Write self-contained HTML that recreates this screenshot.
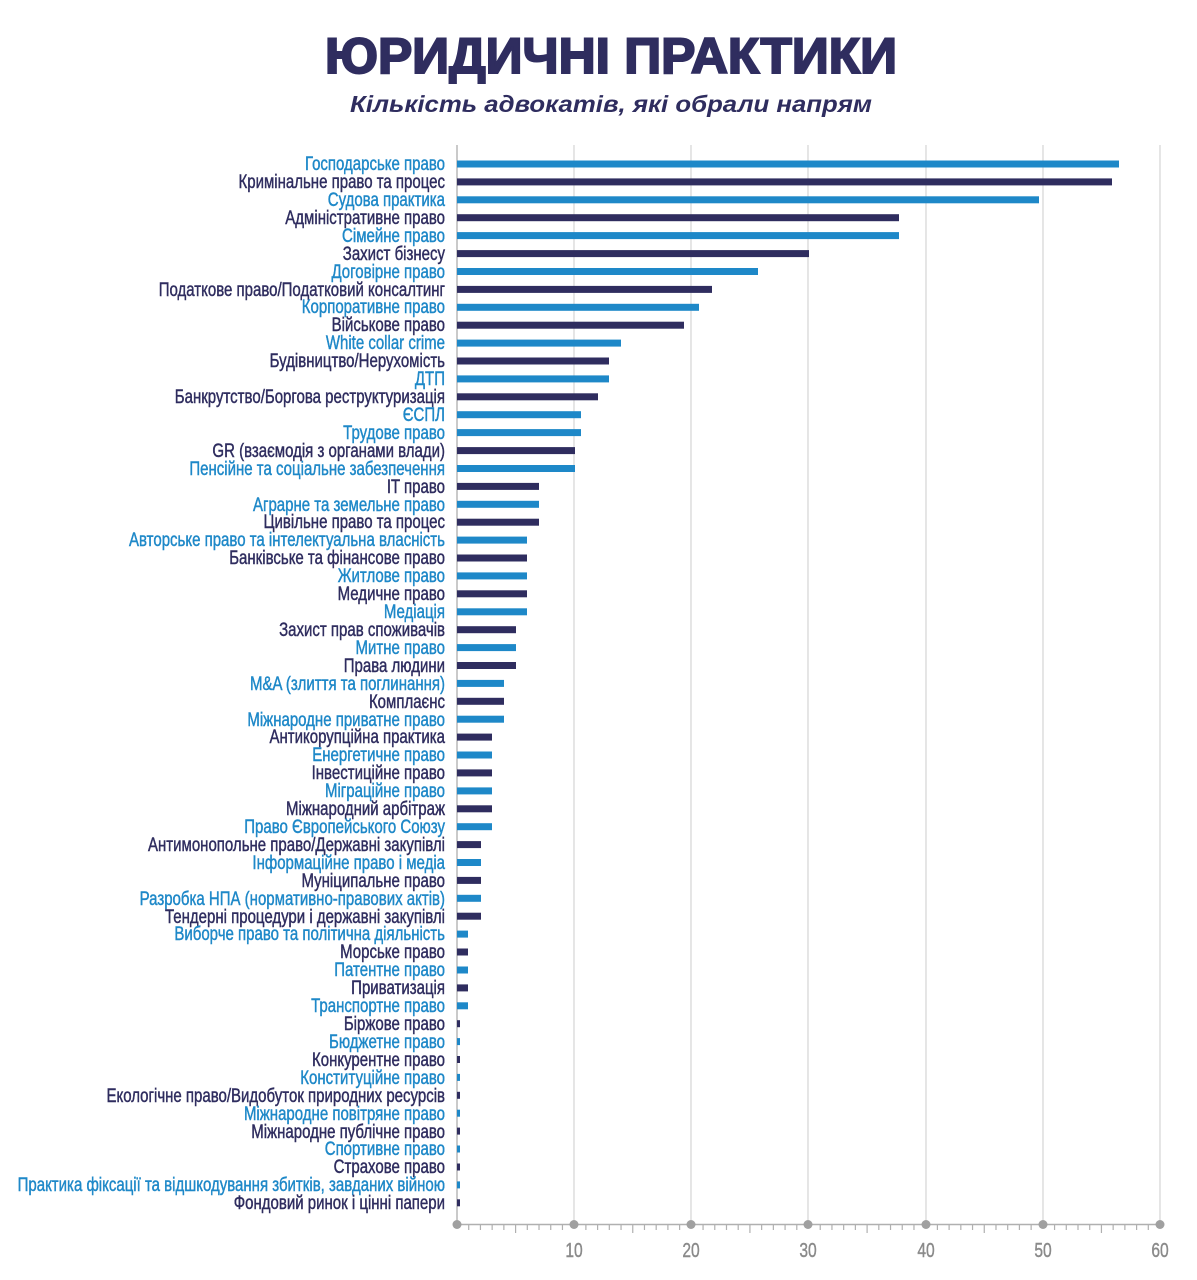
<!DOCTYPE html>
<html><head><meta charset="utf-8"><style>
html,body{margin:0;padding:0;background:#fff;}
svg{display:block}
</style></head><body>
<svg width="1197" height="1280" viewBox="0 0 1197 1280" xmlns="http://www.w3.org/2000/svg">
<rect width="1197" height="1280" fill="#fff"/>
<text x="611" y="73" text-anchor="middle" font-family="Liberation Sans, sans-serif" font-weight="900" font-size="50" fill="#2f2d5f" stroke="#2f2d5f" stroke-width="2" textLength="572" lengthAdjust="spacingAndGlyphs">ЮРИДИЧНІ ПРАКТИКИ</text>
<text x="611" y="112" text-anchor="middle" font-family="Liberation Sans, sans-serif" font-weight="bold" font-style="italic" font-size="23" fill="#2f2d5f" textLength="522" lengthAdjust="spacingAndGlyphs">Кількість адвокатів, які обрали напрям</text>
<g stroke="#d4d4d4" stroke-width="1.2">
<line x1="574" y1="145" x2="574" y2="1224"/><line x1="691" y1="145" x2="691" y2="1224"/><line x1="808" y1="145" x2="808" y2="1224"/><line x1="926" y1="145" x2="926" y2="1224"/><line x1="1043" y1="145" x2="1043" y2="1224"/><line x1="1160" y1="145" x2="1160" y2="1224"/>
</g>
<line x1="457" y1="145" x2="457" y2="1224" stroke="#b8b8b8" stroke-width="1.5"/>
<line x1="457" y1="1224.5" x2="1160" y2="1224.5" stroke="#b0b0b0" stroke-width="1.5"/>
<g id="ticks" stroke="#b0b0b0" stroke-width="1.2"></g>
<g id="bars"></g>
<g fill="#a0a0a0">
<circle cx="457" cy="1224.5" r="4.5"/><circle cx="574" cy="1224.5" r="4.5"/><circle cx="691" cy="1224.5" r="4.5"/><circle cx="808" cy="1224.5" r="4.5"/><circle cx="926" cy="1224.5" r="4.5"/><circle cx="1043" cy="1224.5" r="4.5"/><circle cx="1160" cy="1224.5" r="4.5"/>
</g>
<g font-family="Liberation Sans, sans-serif" font-size="20" fill="#8a8a8a" stroke="#8a8a8a" stroke-width="0.4" text-anchor="middle">
<text x="574" y="1257" transform="translate(574 0) scale(0.78 1) translate(-574 0)">10</text>
<text x="691" y="1257" transform="translate(691 0) scale(0.78 1) translate(-691 0)">20</text>
<text x="808" y="1257" transform="translate(808 0) scale(0.78 1) translate(-808 0)">30</text>
<text x="926" y="1257" transform="translate(926 0) scale(0.78 1) translate(-926 0)">40</text>
<text x="1043" y="1257" transform="translate(1043 0) scale(0.78 1) translate(-1043 0)">50</text>
<text x="1160" y="1257" transform="translate(1160 0) scale(0.78 1) translate(-1160 0)">60</text>
</g>
<g font-family="Liberation Sans, sans-serif" font-size="19" stroke-width="0.45" text-anchor="end" transform="translate(445 0) scale(0.79 1)">
<text x="0" y="170" fill="#1e88c8" stroke="#1e88c8">Господарське право</text>
<text x="0" y="188" fill="#2f2d5f" stroke="#2f2d5f">Кримінальне право та процес</text>
<text x="0" y="206" fill="#1e88c8" stroke="#1e88c8">Судова практика</text>
<text x="0" y="224" fill="#2f2d5f" stroke="#2f2d5f">Адміністративне право</text>
<text x="0" y="242" fill="#1e88c8" stroke="#1e88c8">Сімейне право</text>
<text x="0" y="260" fill="#2f2d5f" stroke="#2f2d5f">Захист бізнесу</text>
<text x="0" y="278" fill="#1e88c8" stroke="#1e88c8">Договірне право</text>
<text x="0" y="296" fill="#2f2d5f" stroke="#2f2d5f">Податкове право/Податковий консалтинг</text>
<text x="0" y="313" fill="#1e88c8" stroke="#1e88c8">Корпоративне право</text>
<text x="0" y="331" fill="#2f2d5f" stroke="#2f2d5f">Військове право</text>
<text x="0" y="349" fill="#1e88c8" stroke="#1e88c8">White collar crime</text>
<text x="0" y="367" fill="#2f2d5f" stroke="#2f2d5f">Будівництво/Нерухомість</text>
<text x="0" y="385" fill="#1e88c8" stroke="#1e88c8">ДТП</text>
<text x="0" y="403" fill="#2f2d5f" stroke="#2f2d5f">Банкрутство/Боргова реструктуризація</text>
<text x="0" y="421" fill="#1e88c8" stroke="#1e88c8">ЄСПЛ</text>
<text x="0" y="439" fill="#1e88c8" stroke="#1e88c8">Трудове право</text>
<text x="0" y="457" fill="#2f2d5f" stroke="#2f2d5f">GR (взаємодія з органами влади)</text>
<text x="0" y="475" fill="#1e88c8" stroke="#1e88c8">Пенсійне та соціальне забезпечення</text>
<text x="0" y="493" fill="#2f2d5f" stroke="#2f2d5f">IT право</text>
<text x="0" y="511" fill="#1e88c8" stroke="#1e88c8">Аграрне та земельне право</text>
<text x="0" y="528" fill="#2f2d5f" stroke="#2f2d5f">Цивільне право та процес</text>
<text x="0" y="546" fill="#1e88c8" stroke="#1e88c8">Авторське право та інтелектуальна власність</text>
<text x="0" y="564" fill="#2f2d5f" stroke="#2f2d5f">Банківське та фінансове право</text>
<text x="0" y="582" fill="#1e88c8" stroke="#1e88c8">Житлове право</text>
<text x="0" y="600" fill="#2f2d5f" stroke="#2f2d5f">Медичне право</text>
<text x="0" y="618" fill="#1e88c8" stroke="#1e88c8">Медіація</text>
<text x="0" y="636" fill="#2f2d5f" stroke="#2f2d5f">Захист прав споживачів</text>
<text x="0" y="654" fill="#1e88c8" stroke="#1e88c8">Митне право</text>
<text x="0" y="672" fill="#2f2d5f" stroke="#2f2d5f">Права людини</text>
<text x="0" y="690" fill="#1e88c8" stroke="#1e88c8">M&amp;A (злиття та поглинання)</text>
<text x="0" y="708" fill="#2f2d5f" stroke="#2f2d5f">Комплаєнс</text>
<text x="0" y="726" fill="#1e88c8" stroke="#1e88c8">Міжнародне приватне право</text>
<text x="0" y="743" fill="#2f2d5f" stroke="#2f2d5f">Антикорупційна практика</text>
<text x="0" y="761" fill="#1e88c8" stroke="#1e88c8">Енергетичне право</text>
<text x="0" y="779" fill="#2f2d5f" stroke="#2f2d5f">Інвестиційне право</text>
<text x="0" y="797" fill="#1e88c8" stroke="#1e88c8">Міграційне право</text>
<text x="0" y="815" fill="#2f2d5f" stroke="#2f2d5f">Міжнародний арбітраж</text>
<text x="0" y="833" fill="#1e88c8" stroke="#1e88c8">Право Європейського Союзу</text>
<text x="0" y="851" fill="#2f2d5f" stroke="#2f2d5f">Антимонопольне право/Державні закупівлі</text>
<text x="0" y="869" fill="#1e88c8" stroke="#1e88c8">Інформаційне право і медіа</text>
<text x="0" y="887" fill="#2f2d5f" stroke="#2f2d5f">Муніципальне право</text>
<text x="0" y="905" fill="#1e88c8" stroke="#1e88c8">Разробка НПА (нормативно-правових актів)</text>
<text x="0" y="923" fill="#2f2d5f" stroke="#2f2d5f">Тендерні процедури і державні закупівлі</text>
<text x="0" y="940" fill="#1e88c8" stroke="#1e88c8">Виборче право та політична діяльність</text>
<text x="0" y="958" fill="#2f2d5f" stroke="#2f2d5f">Морське право</text>
<text x="0" y="976" fill="#1e88c8" stroke="#1e88c8">Патентне право</text>
<text x="0" y="994" fill="#2f2d5f" stroke="#2f2d5f">Приватизація</text>
<text x="0" y="1012" fill="#1e88c8" stroke="#1e88c8">Транспортне право</text>
<text x="0" y="1030" fill="#2f2d5f" stroke="#2f2d5f">Біржове право</text>
<text x="0" y="1048" fill="#1e88c8" stroke="#1e88c8">Бюджетне право</text>
<text x="0" y="1066" fill="#2f2d5f" stroke="#2f2d5f">Конкурентне право</text>
<text x="0" y="1084" fill="#1e88c8" stroke="#1e88c8">Конституційне право</text>
<text x="0" y="1102" fill="#2f2d5f" stroke="#2f2d5f">Екологічне право/Видобуток природних ресурсів</text>
<text x="0" y="1120" fill="#1e88c8" stroke="#1e88c8">Міжнародне повітряне право</text>
<text x="0" y="1138" fill="#2f2d5f" stroke="#2f2d5f">Міжнародне публічне право</text>
<text x="0" y="1155" fill="#1e88c8" stroke="#1e88c8">Спортивне право</text>
<text x="0" y="1173" fill="#2f2d5f" stroke="#2f2d5f">Страхове право</text>
<text x="0" y="1191" fill="#1e88c8" stroke="#1e88c8">Практика фіксації та відшкодування збитків, завданих війною</text>
<text x="0" y="1209" fill="#2f2d5f" stroke="#2f2d5f">Фондовий ринок і цінні папери</text>
</g>
<script>
var ends=[1119,1112,1039,899,899,809,758,712,699,684,621,609,609,598,581,581,575,575,539,539,539,527,527,527,527,527,516,516,516,504,504,504,492,492,492,492,492,492,481,481,481,481,481,468,468,468,468,468,460,460,460,460,460,460,460,460,460,460,460];
var ns="http://www.w3.org/2000/svg";
var labs=document.querySelectorAll("text[x='0']");
var g=document.getElementById("bars");
for(var i=0;i<59;i++){var y=164+i*17.91;var r=document.createElementNS(ns,"rect");r.setAttribute("x",457);r.setAttribute("y",(y-3.5).toFixed(1));r.setAttribute("width",ends[i]-457);r.setAttribute("height",7);r.setAttribute("fill",labs[i]?labs[i].getAttribute("fill"):"#2f2d5f");g.appendChild(r);}
var t=document.getElementById("ticks");
for(var k=1;k<60;k++){if(k%10==0)continue;var x=457+k*11.717;var l=document.createElementNS(ns,"line");l.setAttribute("x1",x);l.setAttribute("x2",x);l.setAttribute("y1",1225);l.setAttribute("y2",k%5==0?1233:1230);t.appendChild(l);}
</script>
</svg>
</body></html>
